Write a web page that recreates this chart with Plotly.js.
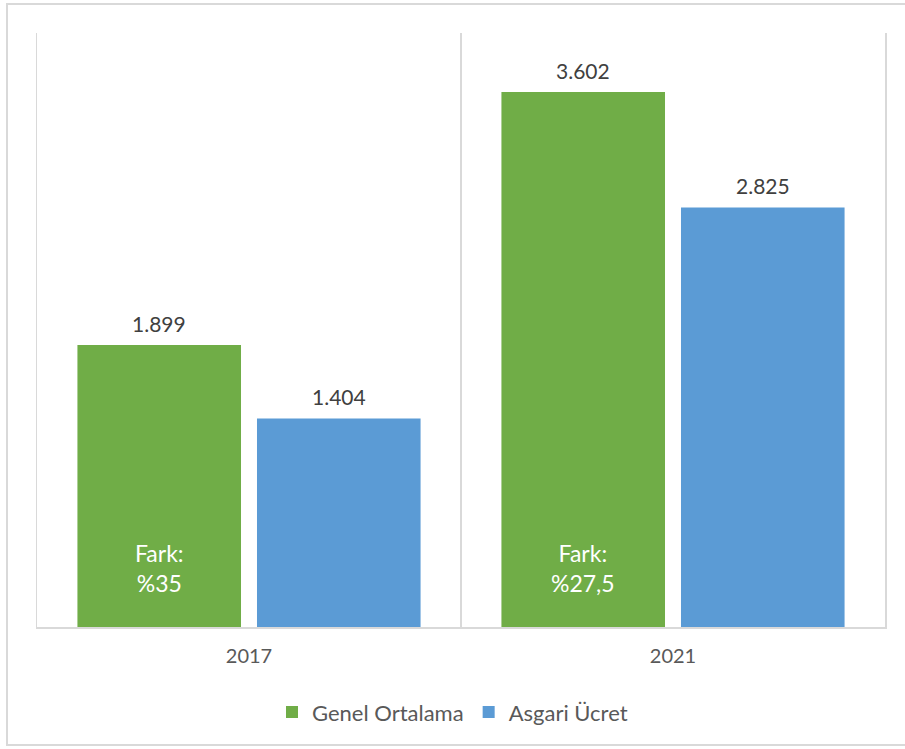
<!DOCTYPE html>
<html>
<head>
<meta charset="utf-8">
<script src="https://cdn.plot.ly/plotly-3.0.1.min.js"></script>
<style>
  html, body { margin: 0; padding: 0; background: #ffffff; }
  #frame { position: absolute; left: 6px; top: 3px; width: 920px; height: 743px; border: 2px solid #D9D9D9; box-sizing: border-box; }
  #chart { position: absolute; left: 0; top: 0; width: 905px; height: 749px; }
</style>
</head>
<body>
<div id="frame"></div>
<div id="chart"></div>
<script>
// Data
var years = ["2017", "2021"];
var seriesNames = ["Genel Ortalama", "Asgari Ücret"];
var genelOrtalama = [1899, 3602];
var asgariUcret = [1404, 2825];
var farkLabels = ["Fark:<br>%35", "Fark:<br>%27,5"];
var farkLevel = [400, 400];

var GREEN = "#70AD47";
var BLUE = "#5B9BD5";
var FONT = "Lato, 'Open Sans', sans-serif";
var bargap = 0.153;
var bargroupgap = 0.089;

var seriesValues = [genelOrtalama, asgariUcret];
var seriesColors = [GREEN, BLUE];

var traces = seriesValues.map(function (vals, s) {
  return {
    type: "bar", name: seriesNames[s], x: years, y: vals,
    marker: { color: seriesColors[s] },
    hoverinfo: "skip"
  };
});

// Offset of each bar's centre from the category centre (in category units)
var barOffset = (1 - bargap) / 4;
function fmt(v) {
  return Plotly.d3 ? String(v) : String(v);
}
function thousands(v) {
  var s = String(v);
  return s.replace(/\B(?=(\d{3})+(?!\d))/g, ".");
}

var annotations = [];
seriesValues.forEach(function (vals, s) {
  vals.forEach(function (v, i) {
    annotations.push({
      x: i + (s === 0 ? -barOffset : barOffset), y: v, xref: "x", yref: "y",
      text: thousands(v), showarrow: false, yanchor: "middle", yshift: 22,
      font: { family: FONT, size: 21, color: "#404040" }
    });
  });
});
years.forEach(function (yr, i) {
  annotations.push({
    x: i - barOffset, y: farkLevel[i], xref: "x", yref: "y",
    text: farkLabels[i], showarrow: false, align: "center",
    font: { family: FONT, size: 23, color: "#ffffff" }
  });
});

var layout = {
  width: 905, height: 749,
  margin: { l: 37, r: 20, t: 33, b: 122 },
  paper_bgcolor: "rgba(0,0,0,0)", plot_bgcolor: "rgba(0,0,0,0)",
  separators: ",.",
  barmode: "group", bargap: bargap, bargroupgap: bargroupgap,
  font: { family: FONT, size: 20, color: "#595959" },
  showlegend: true,
  legend: {
    orientation: "h", x: 0.5, xanchor: "center", xref: "container",
    y: 0.049, yanchor: "middle", yref: "container",
    font: { family: FONT, size: 22, color: "#595959" },
    traceorder: "normal", itemwidth: 30
  },
  xaxis: {
    type: "category", range: [-0.5, 1.5],
    tickson: "boundaries", ticks: "", showgrid: true,
    gridcolor: "#D9D9D9", gridwidth: 1.5,
    showline: true, linecolor: "#D9D9D9", linewidth: 1.5,
    tickfont: { family: FONT, size: 20, color: "#595959" },
    ticklabelstandoff: 10, fixedrange: true
  },
  yaxis: {
    range: [0, 4000], showgrid: false, zeroline: false,
    showticklabels: false, ticks: "",
    showline: true, mirror: true, linecolor: "#D9D9D9", linewidth: 1.5,
    fixedrange: true
  },
  annotations: annotations
};

Plotly.newPlot("chart", traces, layout, { displayModeBar: false, staticPlot: true });
</script>
</body>
</html>
